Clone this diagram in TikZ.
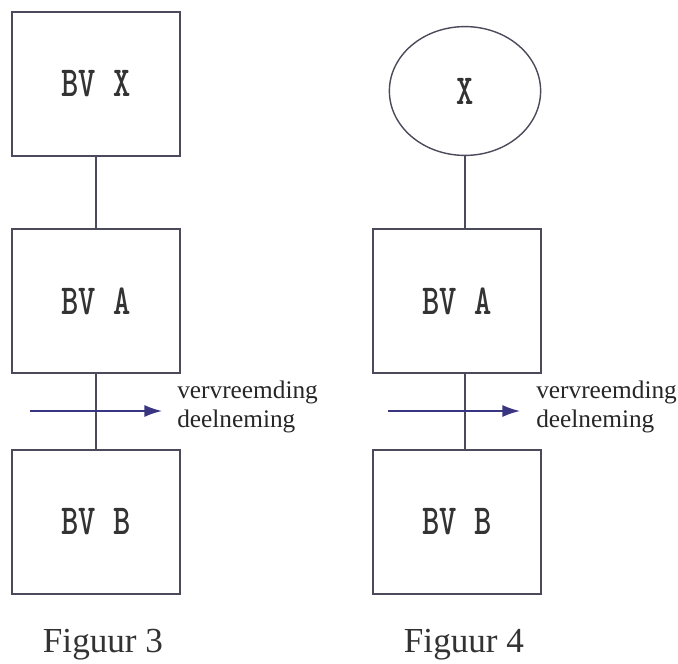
\documentclass[tikz,border=0pt]{standalone}
\usepackage{fontspec}
\setmainfont{Liberation Serif}
\usepackage{graphicx}
\usepackage{tikz}
\usetikzlibrary{positioning,arrows.meta,shapes.geometric}
\definecolor{orgline}{HTML}{4A4A5A}
\definecolor{movearr}{HTML}{3A3580}
\newcommand{\bvname}[1]{\scalebox{1}[1.3]{#1}}
\tikzset{
  bv/.style={draw=orgline, line width=1.4pt, minimum width=4.2cm, minimum height=3.62cm,
             inner sep=0pt, text=black!80, font=\ttfamily\bfseries\fontsize{23.4}{26}\selectfont},
  holder/.style={ellipse, draw=orgline, line width=1pt, minimum width=3.78cm, minimum height=3.22cm,
                 inner sep=0pt, text=black!80, font=\ttfamily\bfseries\fontsize{23.4}{26}\selectfont},
  link/.style={draw=orgline, line width=1.3pt},
  movearrow/.style={-{Latex[length=4.4mm,width=3mm]}, draw=movearr, line width=1.1pt},
  movelabel/.style={anchor=base west, inner sep=0pt, text=black!85, font=\fontsize{18}{20}\selectfont},
  caption/.style={anchor=base, inner sep=0pt, text=black!80, font=\fontsize{25}{28}\selectfont},
}
\begin{document}
\begin{tikzpicture}[x=0.025cm, y=-0.025cm]
  \useasboundingbox (0,0) rectangle (678,664);
  % figuur 3
  \node[bv] (x3) at (96,84) {\bvname{BV X}};
  \node[bv] (a3) at (96,301) {\bvname{BV A}};
  \node[bv] (b3) at (96,522) {\bvname{BV B}};
  \draw[link] (x3) -- (a3);
  \draw[link] (a3) -- (b3);
  \coordinate (s3) at (30,411);
  \coordinate (e3) at (162,411);
  \draw[movearrow] (s3) -- (e3);
  \node[movelabel] (v3) at (177,398) {vervreemding};
  \node[movelabel] (d3) at (177,427) {deelneming};
  \node[caption] (f3) at (103,652) {Figuur 3};
  % figuur 4
  \node[holder] (x4) at (465,91) {\bvname{X}};
  \node[bv] (a4) at (457,301) {\bvname{BV A}};
  \node[bv] (b4) at (457,522) {\bvname{BV B}};
  \draw[link] (x4) -- (a4.north -| x4);
  \draw[link] (a4.south -| x4) -- (b4.north -| x4);
  \coordinate (s4) at (388,411);
  \coordinate (e4) at (520,411);
  \draw[movearrow] (s4) -- (e4);
  \node[movelabel] (v4) at (536,398) {vervreemding};
  \node[movelabel] (d4) at (536,427) {deelneming};
  \node[caption] (f4) at (464,652) {Figuur 4};
\end{tikzpicture}
\end{document}
